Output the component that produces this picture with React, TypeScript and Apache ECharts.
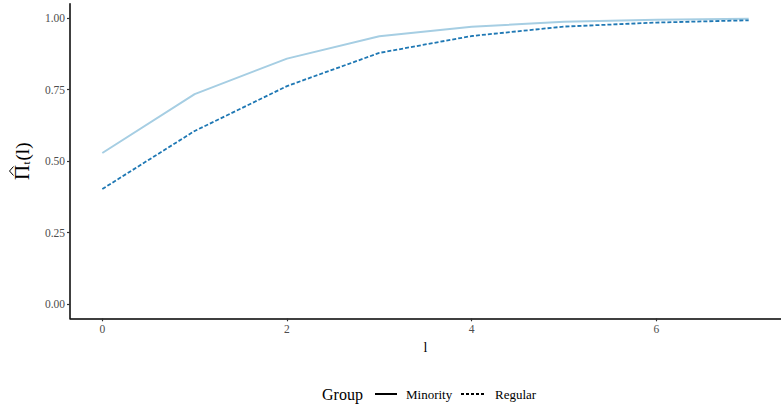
import React, { useEffect, useRef } from "react";
import * as echarts from "echarts";

// Lag values on the x axis
const lags = [0, 1, 2, 3, 4, 5, 6, 7];
// Estimated probabilities per group
const minority = [0.528, 0.734, 0.858, 0.936, 0.969, 0.987, 0.994, 0.997];
const regular = [0.402, 0.605, 0.762, 0.878, 0.937, 0.97, 0.984, 0.992];
// Tick positions
const xTicks = [0, 2, 4, 6];
const yTicks = [0, 0.25, 0.5, 0.75, 1];
// Legend entries
const groups = ["Minority", "Regular"];

const SERIF = "'Liberation Serif', 'Times New Roman', 'DejaVu Serif', serif";
const MINORITY_COLOR = "#a6cee3";
const REGULAR_COLOR = "#1f78b4";
const DOTS: number[] = [4, 2];

export default function App() {
  const ref = useRef<HTMLDivElement>(null);

  useEffect(() => {
    document.body.style.margin = "0";
    if (!ref.current) return;
    const chart = echarts.init(ref.current, undefined, { renderer: "svg" });
    const rot = Math.PI / 2;
    const dy = -2; // vertical shift of the y-axis title
    chart.setOption({
      animation: false,
      backgroundColor: "#ffffff",
      textStyle: { fontFamily: SERIF },
      grid: { left: 70, top: 3.7, width: 721, height: 314.6, containLabel: false },
      xAxis: {
        type: "value",
        min: -0.35,
        max: 7.35,
        name: "l",
        nameLocation: "middle",
        nameGap: 20,
        nameTextStyle: { fontFamily: SERIF, fontSize: 14, color: "#000", verticalAlign: "top" },
        axisLine: { show: true, onZero: false, lineStyle: { color: "#000", width: 1.5 } },
        axisTick: { show: true, length: 3, customValues: xTicks, lineStyle: { color: "#333", width: 1.2 } },
        axisLabel: {
          customValues: xTicks,
          fontFamily: SERIF,
          fontSize: 11.5,
          color: "#4d4d4d",
          margin: 5,
          formatter: (v: number) => String(v),
        },
        splitLine: { show: false },
      },
      yAxis: {
        type: "value",
        min: -0.05,
        max: 1.05,
        axisLine: { show: true, onZero: false, lineStyle: { color: "#000", width: 1.5 } },
        axisTick: { show: true, length: 3, customValues: yTicks, lineStyle: { color: "#333", width: 1.2 } },
        axisLabel: {
          customValues: yTicks,
          fontFamily: SERIF,
          fontSize: 11.5,
          color: "#4d4d4d",
          margin: 5,
          formatter: (v: number) => v.toFixed(2),
        },
        splitLine: { show: false },
      },
      graphic: [
        // y-axis title: hat-Pi with subscript t, followed by (l)
        {
          type: "text",
          x: 22,
          y: 174.5 + dy,
          rotation: rot,
          style: { text: "Π", fontFamily: SERIF, fontSize: 21, fill: "#000", align: "center", verticalAlign: "middle" },
        },
        {
          type: "polyline",
          shape: { points: [[13.5, 168.5 + dy], [9.5, 173 + dy], [13.5, 177.5 + dy]] },
          style: { stroke: "#000", lineWidth: 1, fill: "none" },
        },
        {
          type: "text",
          x: 26,
          y: 165 + dy,
          rotation: rot,
          style: { text: "t", fontFamily: SERIF, fontSize: 11, fill: "#000", align: "center", verticalAlign: "middle" },
        },
        {
          type: "text",
          x: 22.5,
          y: 153.5 + dy,
          rotation: rot,
          style: { text: "(l)", fontFamily: SERIF, fontSize: 19, fill: "#000", align: "center", verticalAlign: "middle" },
        },
        // legend
        {
          type: "text",
          x: 322,
          y: 394,
          style: { text: "Group", fontFamily: SERIF, fontSize: 16, fill: "#000", verticalAlign: "middle" },
        },
        {
          type: "line",
          shape: { x1: 375, y1: 394, x2: 397, y2: 394 },
          style: { stroke: "#000", lineWidth: 2 },
        },
        {
          type: "text",
          x: 406,
          y: 394,
          style: { text: groups[0], fontFamily: SERIF, fontSize: 13, fill: "#000", verticalAlign: "middle" },
        },
        {
          type: "line",
          shape: { x1: 461, y1: 394, x2: 485, y2: 394 },
          style: { stroke: "#000", lineWidth: 2, lineDash: [3, 2] },
        },
        {
          type: "text",
          x: 495,
          y: 394,
          style: { text: groups[1], fontFamily: SERIF, fontSize: 13, fill: "#000", verticalAlign: "middle" },
        },
      ],
      series: [
        {
          name: groups[0],
          type: "line",
          data: lags.map((l, i) => [l, minority[i]]),
          symbol: "none",
          lineStyle: { color: MINORITY_COLOR, width: 2 },
          itemStyle: { color: MINORITY_COLOR },
        },
        {
          name: groups[1],
          type: "line",
          data: lags.map((l, i) => [l, regular[i]]),
          symbol: "none",
          lineStyle: { color: REGULAR_COLOR, width: 1.8, type: DOTS },
          itemStyle: { color: REGULAR_COLOR },
        },
      ],
    });
    return () => chart.dispose();
  }, []);

  return <div ref={ref} style={{ width: 781, height: 407 }} />;
}
